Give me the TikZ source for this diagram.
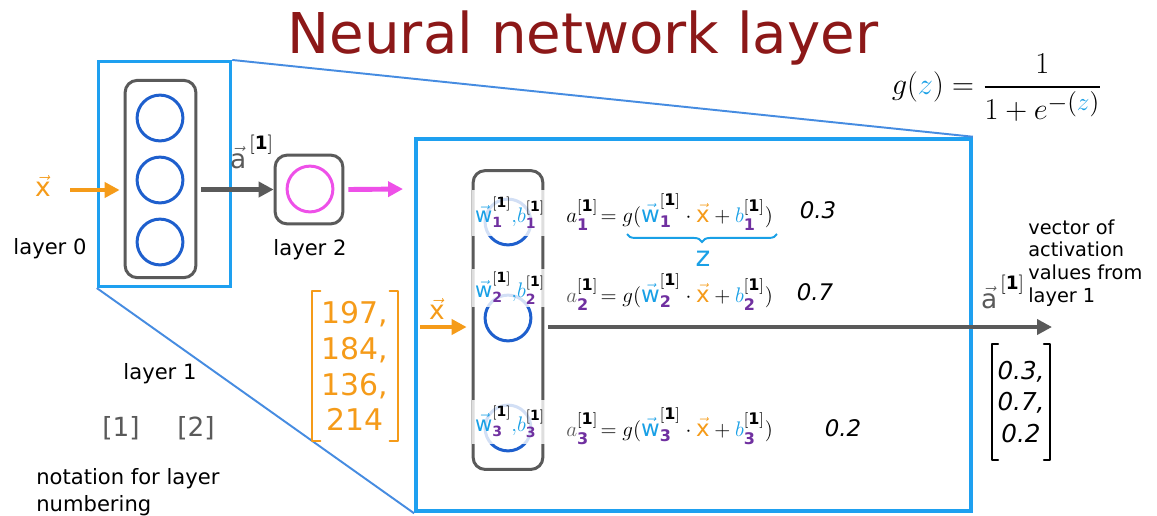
\documentclass[tikz,border=0pt]{standalone}
\usepackage{amsmath}
\usepackage{fontspec}
\setmainfont{DejaVu Sans}
\usetikzlibrary{arrows.meta, decorations.pathreplacing, calc}
\newdimen\pxu
\pxu=0.5669pt
\newcommand{\labelSize}{12}
\newcommand{\mathSize}{13}
\newcommand{\tipSize}{{Triangle[length=8.5pt, width=8.5pt]}}
\definecolor{titleRed}{RGB}{140,24,24}
\definecolor{zoomCyan}{RGB}{30,160,240}
\definecolor{zoomLine}{RGB}{70,140,225}
\definecolor{nodeBlue}{RGB}{30,95,205}
\definecolor{boxGray}{RGB}{90,90,90}
\definecolor{inOrange}{RGB}{245,155,25}
\definecolor{outMagenta}{RGB}{238,80,232}
\definecolor{wBlue}{RGB}{25,160,230}
\definecolor{subPurple}{RGB}{112,48,160}
\newcommand{\wvec}[1]{\textcolor{wBlue}{\vec{\mathrm{w}}}_{\textcolor{subPurple}{\mathbf{#1}}}^{\mathbf{[1]}}}
\newcommand{\bvar}[1]{\textcolor{wBlue}{b}_{\textcolor{subPurple}{\mathbf{#1}}}^{\mathbf{[1]}}}
\newcommand{\avar}[2]{\textcolor{#2}{a}_{\textcolor{subPurple}{\mathbf{#1}}}^{\mathbf{[1]}}}
\newcommand{\xvec}{\textcolor{inOrange}{\vec{\mathrm{x}}}}
\newcommand{\avec}{\textcolor{boxGray}{\vec{\mathrm{a}}}^{\,\mathbf{[1]}}}
\tikzset{
  zoombox/.style={draw=zoomCyan, line width=1.7pt, inner sep=0},
  zoomline/.style={draw=zoomLine, line width=1.1pt},
  layerbox/.style={draw=boxGray, line width=1.7pt, rounded corners=6.8pt, inner sep=0},
  unit/.style={circle, draw=nodeBlue, line width=1.7pt, minimum size=46\pxu, inner sep=0},
  feed/.style={line width=2.8pt, -\tipSize},
  txt/.style={font=\fontsize{\labelSize}{15}\selectfont, inner sep=0},
  eqn/.style={font=\fontsize{\mathSize}{15}\selectfont, inner sep=0},
  weights/.style={font=\fontsize{12}{14}\selectfont, inner sep=0, fill=white, fill opacity=0.8, text opacity=1, inner xsep=3\pxu},
  hand/.style={font=\fontsize{13}{15}\selectfont\itshape, inner sep=0},
  handbr/.style={line width=1.1pt, line cap=round, line join=round},
}
\begin{document}
\begin{tikzpicture}[x=0.02cm, y=-0.02cm]
\useasboundingbox[fill=white] (0,0) rectangle (1157,515);

% Title
\node[font=\fontsize{32}{38}\selectfont, text=titleRed] (title) at (583,38) {Neural network layer};

% Sigmoid
\node[font=\fontsize{19}{22}\selectfont] (gfun) at (997,88)
  {$g(\textcolor{wBlue}{z}) = \dfrac{1}{1+e^{-(\textcolor{wBlue}{z})}}$};

% Zoom frames
\node[zoombox, minimum width=133\pxu, minimum height=226\pxu] (zoomsmall) at (164.5,174) {};
\node[zoombox, line width=2.3pt, minimum width=557\pxu, minimum height=374\pxu] (zoombig) at (693.5,325) {};
\draw[zoomline] (zoomsmall.north east) -- (zoombig.north east);
\draw[zoomline] (zoomsmall.south west) -- (zoombig.south west);

% Small network
\node[layerbox, minimum width=71\pxu, minimum height=198\pxu] (l1) at (160.5,179) {};
\foreach \i/\y in {1/118, 2/180, 3/242} {
  \node[unit] (u\i) at (160,\y) {};
}
\node[layerbox, minimum width=68\pxu, minimum height=69\pxu] (l2) at (309,189.5) {};
\node[unit, draw=outMagenta] (u4) at (310,189) {};
\coordinate (xin) at (70,190);
\coordinate (yout) at (403,189);
\draw[feed, inOrange, line width=2.3pt] (xin) -- ($(l1.west |- xin)+(-4,0)$);
\draw[feed, boxGray] ($(l1.east |- l2.west)+(4,0)$) -- (l2.west);
\draw[feed, outMagenta] ($(l2.east)+(4,0)$) -- (yout);
\node[font=\fontsize{15}{18}\selectfont] (xlab) at (43,186) {$\xvec$};
\node[font=\fontsize{15}{18}\selectfont] (alab) at (252,152) {$\avec$};
\node[txt] (lay0) at (50,249) {layer 0};
\node[txt] (lay2) at (310,250) {layer 2};

% Layer notation
\node[txt] (lay1) at (160,374) {layer 1};
\node[txt, font=\fontsize{15}{18}\selectfont, text=boxGray] (br1) at (121,428) {[1]};
\node[txt, font=\fontsize{15}{18}\selectfont, text=boxGray] (br2) at (196,428) {[2]};
\node[txt, anchor=west, align=left, font=\fontsize{\labelSize}{15.3}\selectfont] (notation) at (36,492)
  {notation for layer\\numbering};

% Input values
\node[font=\fontsize{17}{20.4}\selectfont, text=inOrange, align=center, inner xsep=9\pxu,
  minimum height=150\pxu] (xvals) at (355,366) {197,\\184,\\136,\\214};
\draw[handbr, inOrange] ([xshift=8\pxu]xvals.north west) -- (xvals.north west)
  -- (xvals.south west) -- ([xshift=8\pxu]xvals.south west);
\draw[handbr, inOrange] ([xshift=-8\pxu]xvals.north east) -- (xvals.north east)
  -- (xvals.south east) -- ([xshift=-8\pxu]xvals.south east);

% Layer 1 in detail
\node[layerbox, minimum width=70\pxu, minimum height=300\pxu] (hidcol) at (508,320) {};
\foreach \i/\y in {1/222, 2/318, 3/428} {
  \node[unit] (h\i) at (508,\y) {};
}
\node[weights, minimum height=46\pxu] (wb1) at (510,213) {$\wvec{1}\textcolor{wBlue}{,}\bvar{1}$};
\node[weights, minimum height=38\pxu] (wb2) at (510,288) {$\wvec{2}\textcolor{wBlue}{,}\bvar{2}$};
\node[weights, minimum height=44\pxu] (wb3) at (510,422) {$\wvec{3}\textcolor{wBlue}{,}\bvar{3}$};

\node[eqn, anchor=west] (eq1) at (566,212) {$\avar{1}{black}\!= g(\wvec{1}\cdot\xvec + \bvar{1})$};
\node[eqn, anchor=west] (eq2) at (566,292) {$\avar{2}{boxGray}\!= g(\wvec{2}\cdot\xvec + \bvar{2})$};
\node[eqn, anchor=west] (eq3) at (566,426) {$\avar{3}{boxGray}\!= g(\wvec{3}\cdot\xvec + \bvar{3})$};
\node[hand] (v1) at (818,210) {0.3};
\node[hand] (v2) at (815,292) {0.7};
\node[hand] (v3) at (843,428) {0.2};

% z brace
\coordinate (zl) at (627,234);
\coordinate (zr) at (777,234);
\draw[decorate, decoration={brace, mirror, amplitude=4.5pt}, wBlue, line width=1.1pt] (zl) -- (zr);
\node[font=\fontsize{16}{18}\selectfont, text=wBlue] (zlab) at (703,259) {z};

% Arrows in and out
\coordinate (xin2) at (420,327);
\coordinate (aend) at (1052,327);
\draw[feed, inOrange, line width=2.3pt] (xin2) -- ($(hidcol.west |- xin2)+(-5,0)$);
\draw[feed, boxGray] ($(hidcol.east |- aend)+(4,0)$) -- (aend);
\node[font=\fontsize{15}{18}\selectfont] (xlab2) at (437,309) {$\xvec$};
\node[font=\fontsize{15}{18}\selectfont] (alab2) at (1003,292) {$\avec$};

% Output
\node[txt, anchor=west, align=left, font=\fontsize{11}{13}\selectfont] (vecnote) at (1028,263)
  {vector of\\activation\\values from\\layer 1};
\node[font=\fontsize{14}{18}\selectfont\itshape, align=center, inner xsep=5\pxu,
  minimum height=115\pxu] (avals) at (1021,402) {0.3,\\0.7,\\0.2};
\draw[handbr] ([xshift=6\pxu]avals.north west) -- (avals.north west)
  -- (avals.south west) -- ([xshift=6\pxu]avals.south west);
\draw[handbr] ([xshift=-6\pxu]avals.north east) -- (avals.north east)
  -- (avals.south east) -- ([xshift=-6\pxu]avals.south east);

\end{tikzpicture}
\end{document}
